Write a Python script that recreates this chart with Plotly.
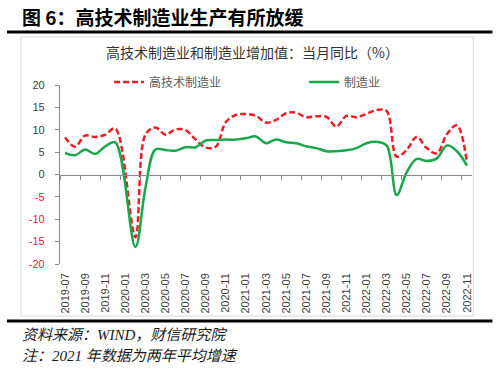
import plotly.graph_objects as go

months = ["2019-07","2019-08","2019-09","2019-10","2019-11","2019-12",
          "2020-01","2020-02","2020-03","2020-04","2020-05","2020-06",
          "2020-07","2020-08","2020-09","2020-10","2020-11","2020-12",
          "2021-01","2021-02","2021-03","2021-04","2021-05","2021-06",
          "2021-07","2021-08","2021-09","2021-10","2021-11","2021-12",
          "2022-01","2022-02","2022-03","2022-04","2022-05","2022-06",
          "2022-07","2022-08","2022-09","2022-10","2022-11"]

hightech = [8.3, 6.2, 8.7, 8.4, 8.9, 10.3,
            None, -14.0, 8.9, 10.5, 8.9, 10.1,
            9.9, 7.8, 6.0, 6.2, 11.7, 13.3,
            13.5, 13.1, 11.6, 12.2, 13.7, 13.8,
            12.8, 13.0, 12.9, 10.7, 13.1, 12.8,
            13.6, 14.4, 14.2, 4.0, 5.5, 8.4,
            5.9, 4.7, 9.0, 11.0, 2.6]

manufacturing = [4.8, 4.3, 5.6, 4.6, 6.3, 7.2,
                 None, -16.2, -3.0, 5.6, 5.5, 5.3,
                 6.1, 6.1, 7.6, 7.7, 7.8, 7.8,
                 8.1, 8.5, 7.0, 7.8, 7.2, 7.0,
                 6.3, 5.9, 5.2, 5.2, 5.4, 5.9,
                 7.0, 7.3, 6.5, -4.6, 0.5, 3.5,
                 3.0, 3.6, 6.5, 5.2, 2.0]

y_ticks = [-20, -15, -10, -5, 0, 5, 10, 15, 20]

series_names = ["高技术制造业", "制造业"]

x_idx = list(range(len(months)))
label_idx = x_idx[::2]
label_text = [months[i] for i in label_idx]
tick_bounds = [i - 0.5 for i in label_idx]

W, H = 500, 369
L, R, T, B = 60, 28.4, 85, 105
PW, PH = W - L - R, H - T - B

def px(x):
    return (x - L) / PW

def py(y):
    return (H - B - y) / PH

RED = "#ee1c25"
GREEN = "#1aa64a"
GRAY = "#898989"
TXT = "#404040"
NEG = "#e8202a"

fig = go.Figure()
fig.add_trace(go.Scatter(x=x_idx, y=hightech, name=series_names[0], mode="lines",
                         line=dict(color=RED, width=2.5, dash="6px,3px", shape="spline", smoothing=1.0),
                         connectgaps=True))
fig.add_trace(go.Scatter(x=x_idx, y=manufacturing, name=series_names[1], mode="lines",
                         line=dict(color=GREEN, width=2.5, shape="spline", smoothing=1.0),
                         connectgaps=True))
fig.add_trace(go.Scatter(x=[x_idx[0]], y=[None], xaxis="x2", showlegend=False,
                         hoverinfo="skip", mode="lines"))

ytext = []
for v in y_ticks:
    if v < 0:
        ytext.append('<span style="color:%s">%d</span>' % (NEG, v))
    else:
        ytext.append(str(v))

xr = [-0.5, len(months) - 0.5]

fig.update_layout(
    width=W, height=H, autosize=False,
    margin=dict(l=L, r=R, t=T, b=B, pad=0, autoexpand=False),
    paper_bgcolor="white", plot_bgcolor="white",
    font=dict(family="Liberation Sans, Noto Sans CJK SC, sans-serif", size=11, color=TXT),
    showlegend=True,
    legend=dict(orientation="h", x=px(109), y=py(82), xanchor="left", yanchor="middle",
                entrywidth=150, entrywidthmode="pixels",
                font=dict(size=12, color="#595959", family="Noto Sans CJK SC"),
                bgcolor="rgba(0,0,0,0)"),
    xaxis=dict(range=xr, tickmode="array", tickvals=label_idx, ticktext=label_text,
               tickangle=-90, ticks="", showline=False, showgrid=False, zeroline=False,
               ticklabelstandoff=6, tickfont=dict(size=11, color=TXT)),
    xaxis2=dict(range=xr, overlaying="x", anchor="free", position=0.5, side="bottom",
                tickmode="array", tickvals=tick_bounds, ticks="outside", ticklen=4,
                tickcolor=GRAY, tickwidth=1, showticklabels=False, showline=True,
                linecolor=GRAY, linewidth=1.3, showgrid=False, zeroline=False),
    yaxis=dict(range=[-20, 20], tickmode="array", tickvals=y_ticks, ticktext=ytext,
               ticks="outside", ticklen=4, tickcolor=GRAY, showline=True, linecolor=GRAY,
               linewidth=1.3, showgrid=False, zeroline=False, ticklabelstandoff=8,
               tickfont=dict(size=11, color=TXT)),
)

shapes = [
    dict(type="line", xref="paper", yref="paper", x0=px(7), x1=px(492), y0=py(32), y1=py(32),
         line=dict(color="black", width=3)),
    dict(type="rect", xref="paper", yref="paper", x0=px(21), x1=px(473), y0=py(316), y1=py(37),
         line=dict(color="#d9d9d9", width=1)),
    dict(type="line", xref="paper", yref="paper", x0=px(7), x1=px(492), y0=py(321), y1=py(321),
         line=dict(color="black", width=3)),
]
fig.update_layout(shapes=shapes)

FOOT_FONT = "Liberation Serif, Noto Sans CJK SC, serif"
ann = [
    dict(text="<b>图 6：高技术制造业生产有所放缓</b>", x=px(20), y=py(17), xref="paper", yref="paper",
         xanchor="left", yanchor="middle", showarrow=False,
         font=dict(size=19, color="black", family="Noto Sans CJK SC")),
    dict(text="高技术制造业和制造业增加值：当月同比（%）", x=px(252), y=py(52), xref="paper", yref="paper",
         xanchor="center", yanchor="middle", showarrow=False,
         font=dict(size=14, color="#333333", family="Noto Sans CJK SC")),
    dict(text="<i>资料来源：WIND，财信研究院</i>", x=px(20), y=py(335), xref="paper", yref="paper",
         xanchor="left", yanchor="middle", showarrow=False,
         font=dict(size=15, color="#1a1a1a", family=FOOT_FONT)),
    dict(text="<i>注：2021 年数据为两年平均增速</i>", x=px(20), y=py(356), xref="paper", yref="paper",
         xanchor="left", yanchor="middle", showarrow=False,
         font=dict(size=15, color="#1a1a1a", family=FOOT_FONT)),
]
fig.update_layout(annotations=ann)

fig.write_html("out.html", config={"displayModeBar": False},
               post_script="document.body.style.margin='0';document.body.style.overflow='hidden';")
